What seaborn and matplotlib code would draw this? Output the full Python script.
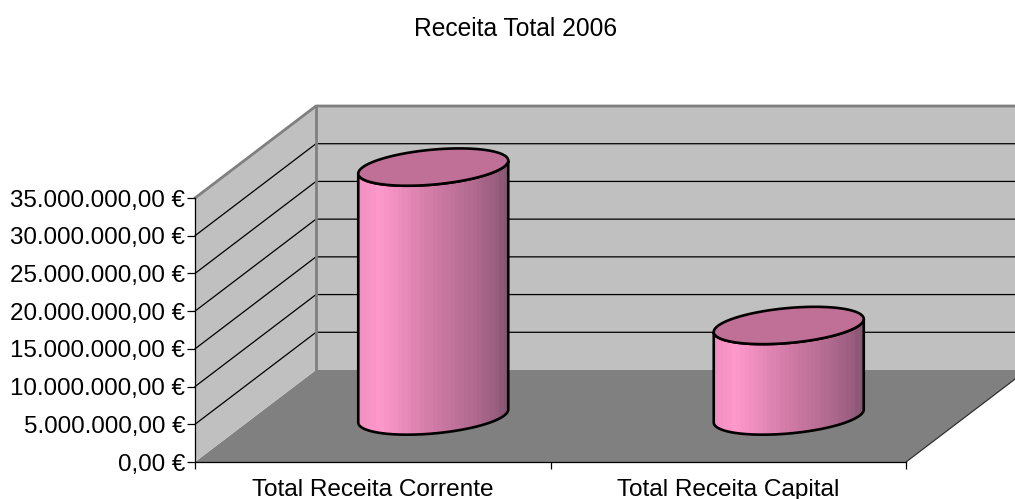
import matplotlib
matplotlib.use("Agg")
import numpy as np
import matplotlib.pyplot as plt
import seaborn as sns
from matplotlib.colors import LinearSegmentedColormap
from matplotlib.patches import Polygon, PathPatch
from matplotlib.path import Path
from matplotlib.transforms import ScaledTranslation

categories = ["Total Receita Corrente", "Total Receita Capital"]
values = [33000000, 12000000]
y_ticks = [0, 5000000, 10000000, 15000000, 20000000, 25000000, 30000000, 35000000]
title = "Receita Total 2006"

sns.set_style("white")
plt.rcParams["font.family"] = ["Liberation Sans", "DejaVu Sans"]
W, H, DPI = 1015, 499, 100
fig = plt.figure(figsize=(W / DPI, H / DPI), dpi=DPI, facecolor="white")
L, R, T, B = 195, 906, 198, 462
ax = fig.add_axes([L / W, (H - B) / H, (R - L) / W, (B - T) / H])
ymax = y_ticks[-1]
DX, DY = 121, 92  # depth of the 3D box, pixels

sns.barplot(x=categories, y=values, ax=ax, width=150 / 355.5, color="#FF99CC")
bars = list(ax.patches)
ax.set_xlim(-0.5, 1.5)
ax.set_ylim(0, ymax)
sx = 2 / (R - L)
sy = ymax / (B - T)
ddx, ddy = DX * sx, DY * sy
x0, x1 = -0.5, 1.5

# box
ax.add_patch(Polygon([(x0, 0), (x0 + ddx, ddy), (x1 + ddx, ddy), (x1, 0)], closed=True, fc="#808080", ec="none", zorder=0.1, clip_on=False))
ax.add_patch(Polygon([(x0 + ddx, ddy), (x1 + ddx, ddy), (x1 + ddx, ymax + ddy), (x0 + ddx, ymax + ddy)], closed=True, fc="#C0C0C0", ec="none", zorder=0.1, clip_on=False))
ax.add_patch(Polygon([(x0, 0), (x0 + ddx, ddy), (x0 + ddx, ymax + ddy), (x0, ymax)], closed=True, fc="#C0C0C0", ec="none", zorder=0.2, clip_on=False))
for v in y_ticks[1:-1]:
    ax.plot([x0, x0 + ddx, x1 + ddx], [v, v + ddy, v + ddy], color="black", lw=0.9, zorder=0.4, clip_on=False)
ax.plot([x0, x0 + ddx, x1 + ddx], [ymax, ymax + ddy, ymax + ddy], color="#808080", lw=2.0, zorder=0.5, clip_on=False)
ax.plot([x0 + ddx, x0 + ddx], [ddy, ymax + ddy], color="#808080", lw=2.0, zorder=0.5, clip_on=False)
ax.plot([x1, x1 + ddx], [0, ddy], color="#303030", lw=0.9, zorder=0.5, clip_on=False)

# cylinders, from the bars that seaborn placed
cmap = LinearSegmentedColormap.from_list("cyl", [(0, "#F48FC2"), (0.13, "#FF99CC"), (0.45, "#D67FAB"), (0.75, "#B56C92"), (0.93, "#9A5F80"), (1, "#875670")])
grad = np.linspace(0, 1, 34)[None, :]
off = ax.transData + ScaledTranslation(DX / 2 / DPI, DY / 2 / DPI, fig.dpi_scale_trans)
t = np.linspace(0, 2 * np.pi, 241)
for bar in bars:
    bx, bw, bh = bar.get_x(), bar.get_width(), bar.get_height()
    bar.set_visible(False)
    cx = bx + bw / 2
    ex = cx + bw / 2 * np.cos(t)
    ey = (6.5 * sy) * np.cos(t) + (17.5 * sy) * np.sin(t)
    front = np.linspace(np.pi, 2 * np.pi, 121)  # lower half
    fx = cx + bw / 2 * np.cos(front)
    fy = (6.5 * sy) * np.cos(front) + (17.5 * sy) * np.sin(front)
    verts = list(zip(fx, fy)) + list(zip(fx[::-1], fy[::-1] + bh))
    body = Path(verts + [verts[0]], closed=True)
    im = ax.imshow(grad, cmap=cmap, vmin=0, vmax=1, extent=(bx, bx + bw, -30 * sy, bh + 30 * sy), aspect="auto", zorder=2, transform=off, interpolation="nearest")
    outline = PathPatch(body, fc="none", ec="black", lw=1.9, transform=off, zorder=2.5, clip_on=False)
    ax.add_patch(outline)
    im.set_clip_box(fig.bbox)
    im.set_clip_path(PathPatch(body, transform=off))
    top = Polygon(np.column_stack([ex, ey + bh]), closed=True, fc="#C07097", ec="black", lw=1.9, transform=off, zorder=3, clip_on=False)
    ax.add_patch(top)
ax.set_xlim(x0, x1)
ax.set_ylim(0, ymax)

# axes
for s in ("top", "right"):
    ax.spines[s].set_visible(False)
for s in ("left", "bottom"):
    ax.spines[s].set_color("black")
    ax.spines[s].set_linewidth(0.9)
    ax.spines[s].set_zorder(1)
ax.set_yticks(y_ticks)
ax.set_yticklabels([f"{v:,.2f}".replace(",", "X").replace(".", ",").replace("X", ".") + " €" for v in y_ticks], fontsize=17.4, color="black")
ax.set_xticks([0, 1])
ax.set_xticklabels(categories, fontsize=17.6, color="black")
ax.set_xticks([-0.5, 0.5, 1.5], minor=True)
ax.tick_params(axis="x", which="major", length=0, pad=12)
ax.tick_params(axis="x", which="minor", length=5, width=0.9, color="black", bottom=True)
ax.tick_params(axis="y", length=6, width=0.9, color="black", pad=1, left=True)
ax.set_xlabel("")
ax.set_ylabel("")
ax.patch.set_alpha(0)
fig.text(516 / W, 1 - 28.5 / H, title, ha="center", va="center", fontsize=17.7, color="black")
fig.savefig("out.png", dpi=DPI)
